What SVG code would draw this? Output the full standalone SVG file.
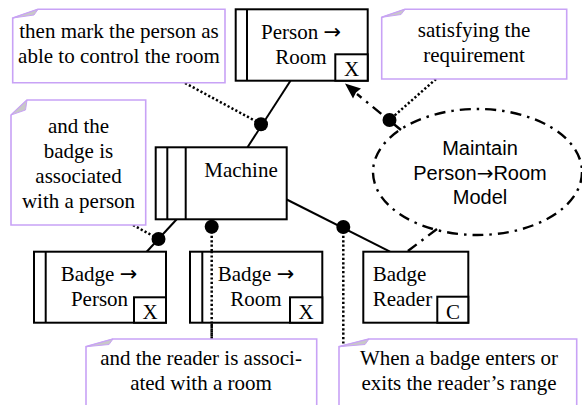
<svg xmlns="http://www.w3.org/2000/svg" width="582" height="405" viewBox="0 0 582 405">
<defs>
<style>
.node{fill:#fff;stroke:#000;stroke-width:2}
.ln{stroke:#000;stroke-width:2;fill:none}
.note{fill:#fff;stroke:#c8a2f6;stroke-width:1.6}
.fold{fill:#c8c8c8;stroke:#c8a2f6;stroke-width:1}
.t{font-family:"Liberation Serif","Times New Roman",serif;font-size:21px;fill:#000}
.s{font-family:"Liberation Sans",Arial,sans-serif;font-size:20px;fill:#000}
.ar{font-family:"DejaVu Sans",sans-serif}
.mid{text-anchor:middle}
.dot{stroke:#000;stroke-width:2.5;stroke-dasharray:2.2 2.2;fill:none}
.dd{stroke:#000;stroke-width:2.4;stroke-dasharray:11 6 2.5 6;fill:none}
.jn{fill:#000}
</style>
</defs>
<rect width="582" height="405" fill="#fff"/>

<g id="connectors">
<line class="ln" x1="290.5" y1="80.7" x2="247.5" y2="147.3"/>
<line class="ln" x1="176.7" y1="219.3" x2="146.7" y2="251.7"/>
<line class="ln" x1="286.7" y1="199.5" x2="390" y2="251.7"/>
<line class="dot" x1="185" y1="83" x2="261" y2="124"/>
<line class="dot" x1="133" y1="225" x2="158.5" y2="239"/>
<line class="dot" x1="211.7" y1="227" x2="211.7" y2="339"/>
<line class="dot" x1="343.3" y1="227" x2="343.3" y2="348"/>
<line class="dot" x1="436" y1="79" x2="389.5" y2="120"/>
<line class="dd" x1="401" y1="130" x2="357" y2="94"/>
<polygon points="345,83.5 361,88.5 356,92.5 353,98.5" fill="#000"/>
<line class="dd" x1="437" y1="229" x2="407" y2="251.7"/>
<circle class="jn" cx="261" cy="124.3" r="7"/>
<circle class="jn" cx="158.5" cy="239" r="7"/>
<circle class="jn" cx="211.7" cy="226.7" r="7"/>
<circle class="jn" cx="343.3" cy="227" r="7"/>
<circle class="jn" cx="389.5" cy="120" r="7"/>
</g>

<g id="note-mark">
<path class="note" d="M38,9.3 L225,9.3 L225,82.7 L12.7,82.7 L12.7,18 Z"/>
<path class="fold" d="M12.7,18 L38,9.3 L34,15 Z"/>
<text class="t mid" x="119" y="37.5">then mark the person as</text>
<text class="t mid" x="119" y="62.5">able to control the room</text>
</g>

<g id="note-satisfy">
<path class="note" d="M405,9.3 L566.7,9.3 L566.7,79 L381.7,79 L381.7,17.3 Z"/>
<path class="fold" d="M381.7,17.3 L405,9.3 L401,14.5 Z"/>
<text class="t mid" x="474" y="37">satisfying the</text>
<text class="t mid" x="474" y="61.5">requirement</text>
</g>

<g id="note-badge">
<path class="note" d="M27,100 L145.7,100 L145.7,225 L11,225 L11,115 Z"/>
<path class="fold" d="M11,115 L27,100 L25.5,110 Z"/>
<text class="t mid" x="78.5" y="133">and the</text>
<text class="t mid" x="78.5" y="158">badge is</text>
<text class="t mid" x="78.5" y="183">associated</text>
<text class="t mid" x="78.5" y="208">with a person</text>
</g>

<g id="note-reader">
<path class="note" d="M113,339 L316.7,339 L316.7,410 L86,410 L86,346.7 Z"/>
<path class="fold" d="M86,346.7 L113,339 L109,344.5 Z"/>
<text class="t mid" x="201" y="365">and the reader is associ-</text>
<text class="t mid" x="201" y="390">ated with a room</text>
</g>

<g id="note-enters">
<path class="note" d="M369,339 L576.7,339 L576.7,410 L339,410 L339,346.7 Z"/>
<path class="fold" d="M339,346.7 L369,339 L365,344.5 Z"/>
<text class="t mid" x="459" y="365">When a badge enters or</text>
<text class="t mid" x="459" y="390">exits the reader’s range</text>
</g>

<g id="node-person-room">
<rect class="node" x="235.7" y="9.3" width="132" height="71.4"/>
<line class="ln" x1="247" y1="9.3" x2="247" y2="80.7"/>
<rect class="node" x="335.3" y="54.3" width="32.4" height="26.4"/>
<text class="t mid" x="301" y="39">Person <tspan class="ar">→</tspan></text>
<text class="t mid" x="301" y="63.5">Room</text>
<text class="t mid" x="351.5" y="76">X</text>
</g>

<g id="node-machine">
<rect class="node" x="155.7" y="147.3" width="131" height="72"/>
<line class="ln" x1="167.3" y1="147.3" x2="167.3" y2="219.3"/>
<line class="ln" x1="185.7" y1="147.3" x2="185.7" y2="219.3"/>
<text class="t mid" x="241" y="176.5">Machine</text>
</g>

<g id="node-model">
<ellipse class="dd" cx="477.5" cy="172" rx="104.5" ry="63" fill="none"/>
<text class="s mid" x="480" y="155">Maintain</text>
<text class="s mid" x="480" y="180">Person<tspan class="ar">→</tspan>Room</text>
<text class="s mid" x="480" y="203.5">Model</text>
</g>

<g id="node-badge-person">
<rect class="node" x="34" y="251.7" width="132" height="71"/>
<line class="ln" x1="45.7" y1="251.7" x2="45.7" y2="322.7"/>
<rect class="node" x="134" y="297.3" width="32" height="25.4"/>
<text class="t mid" x="99" y="280.7">Badge <tspan class="ar">→</tspan></text>
<text class="t mid" x="99.5" y="305.7">Person</text>
<text class="t mid" x="150" y="319">X</text>
</g>

<g id="node-badge-room">
<rect class="node" x="190" y="251.7" width="132.3" height="71"/>
<line class="ln" x1="202.3" y1="251.7" x2="202.3" y2="322.7"/>
<rect class="node" x="290" y="297.3" width="32.3" height="25.4"/>
<text class="t mid" x="256" y="280.7">Badge <tspan class="ar">→</tspan></text>
<text class="t mid" x="256" y="305.7">Room</text>
<text class="t mid" x="306" y="319">X</text>
</g>

<g id="node-badge-reader">
<rect class="node" x="363.3" y="251.7" width="105" height="71"/>
<rect class="node" x="437.3" y="296.7" width="31" height="26"/>
<text class="t" x="372.7" y="280.7">Badge</text>
<text class="t" x="372.7" y="305.7">Reader</text>
<text class="t mid" x="453" y="319">C</text>
</g>

<line class="dot" x1="211.7" y1="251" x2="211.7" y2="339"/>
</svg>
